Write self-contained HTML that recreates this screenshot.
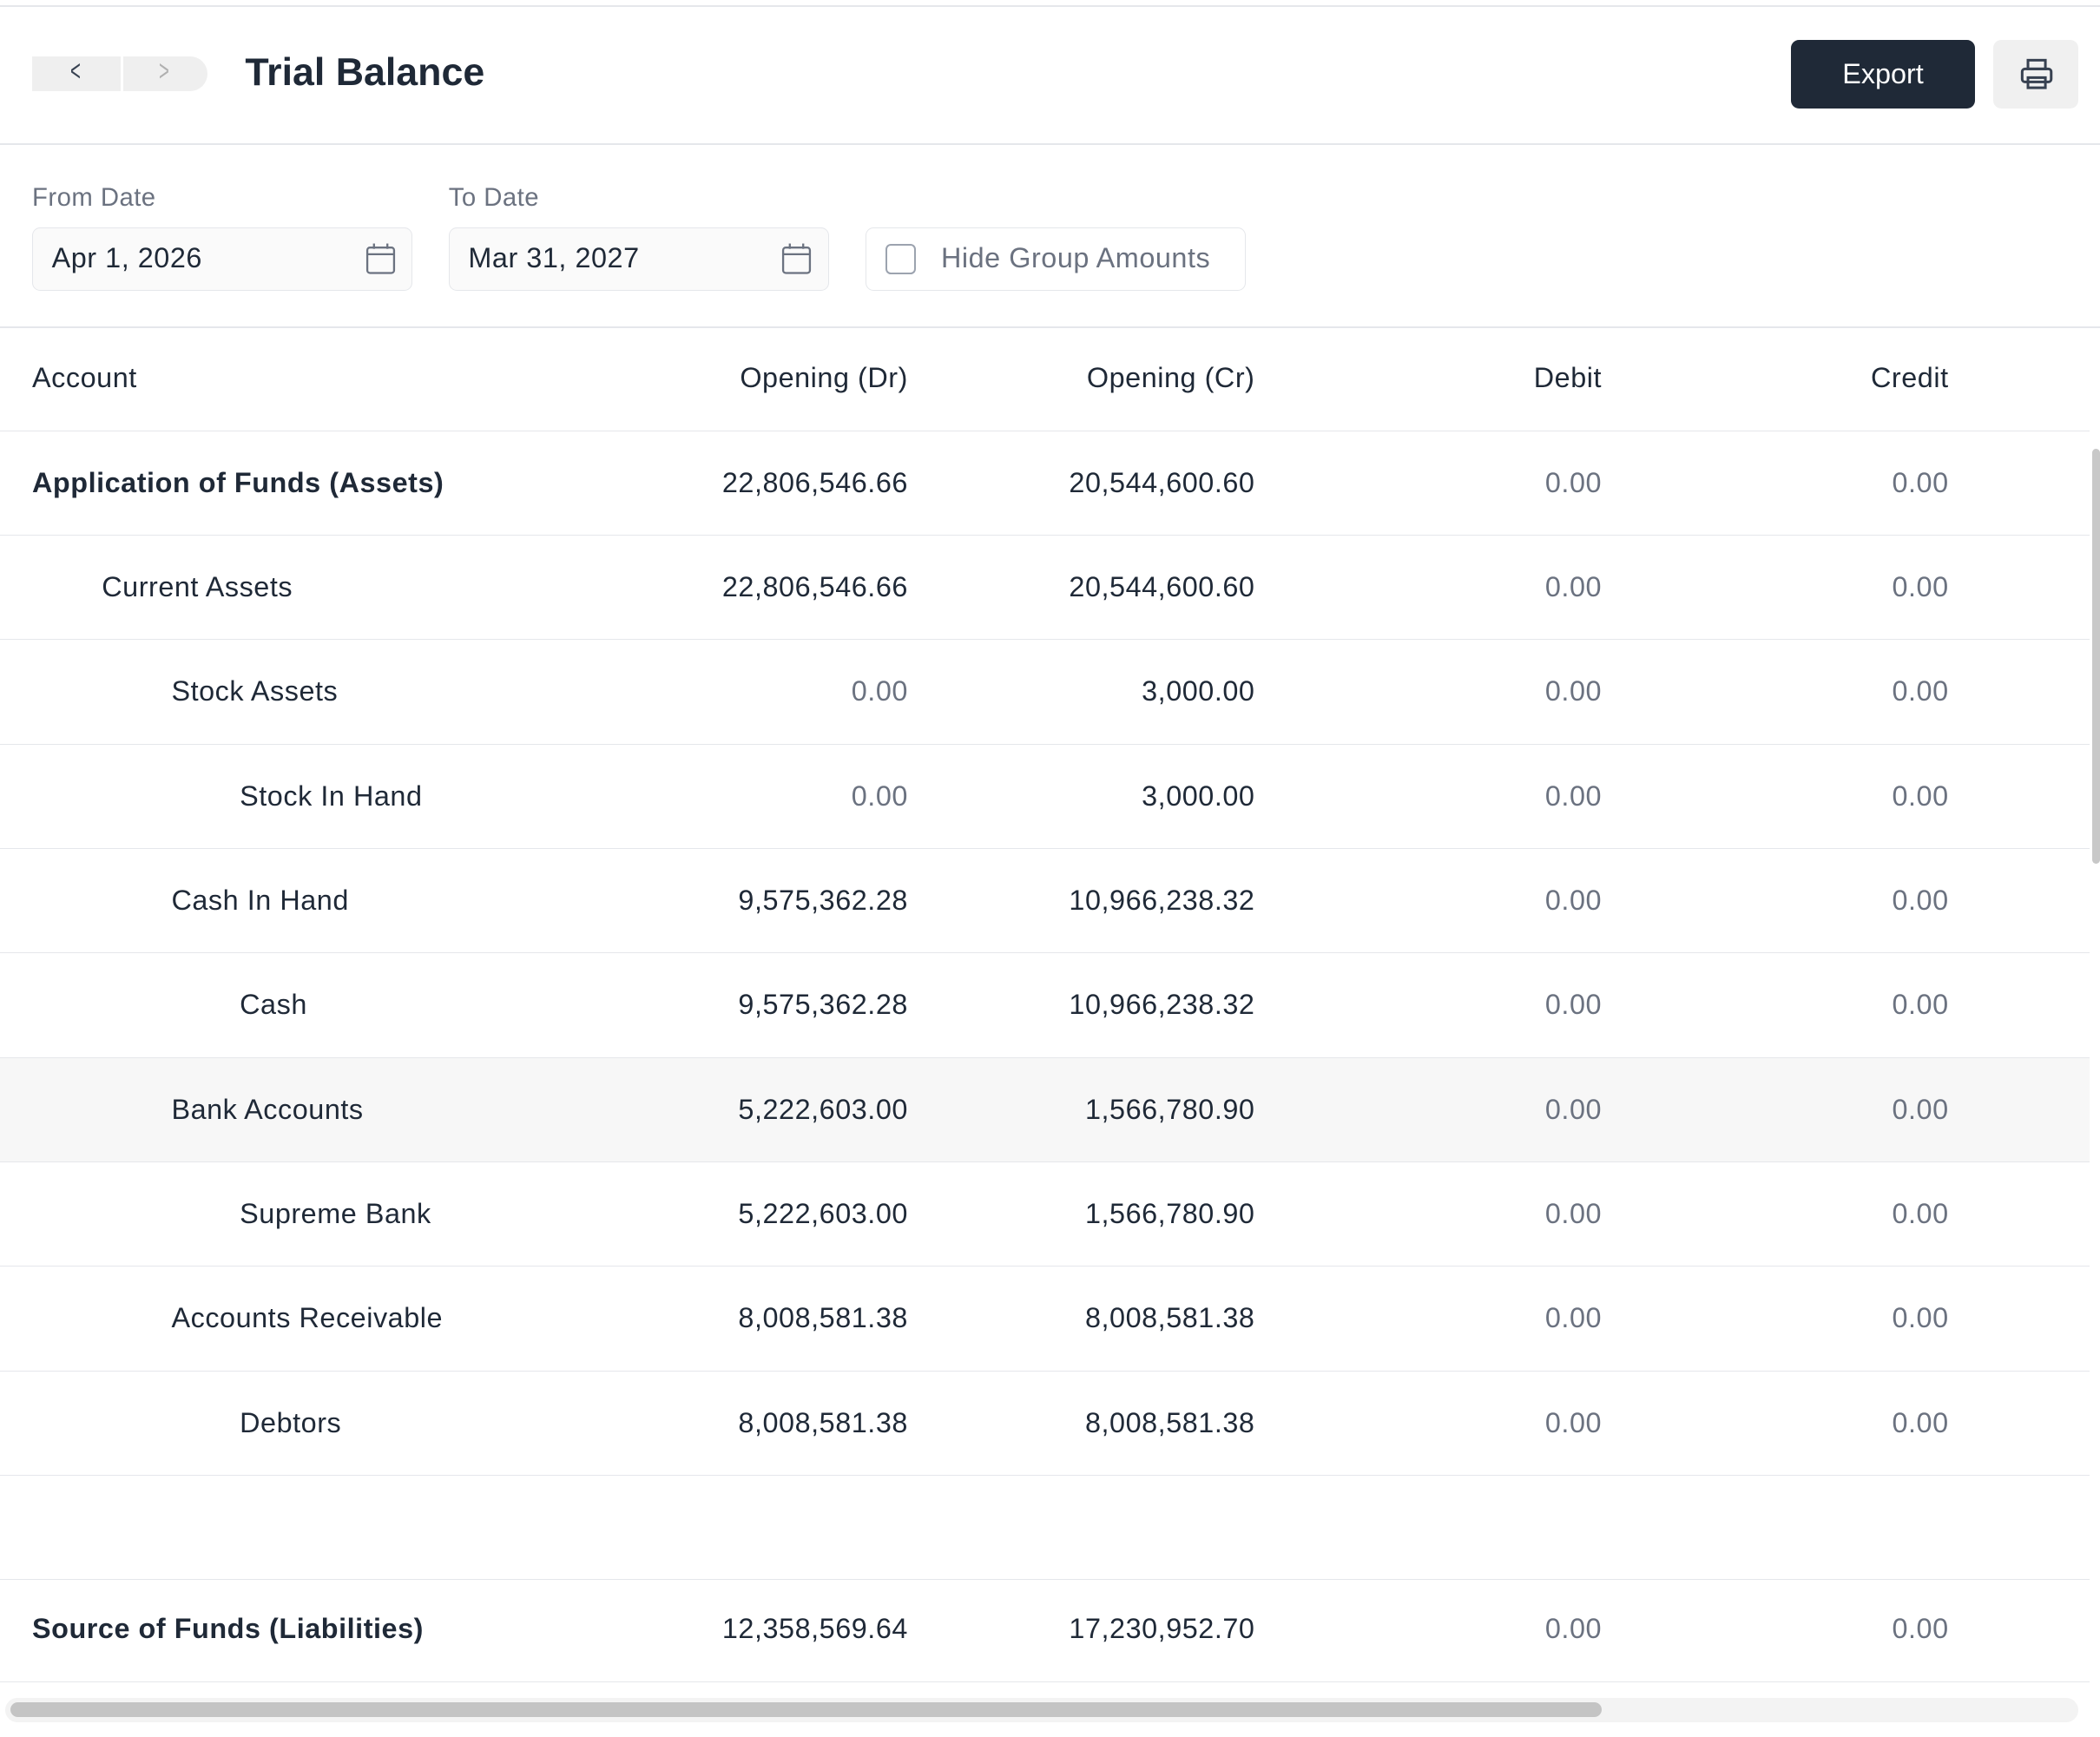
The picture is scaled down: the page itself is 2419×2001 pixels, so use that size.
<!DOCTYPE html>
<html><head><meta charset="utf-8"><style>
html,body{margin:0;padding:0;background:#fff;overflow:hidden;}
#w{zoom:1.5427;width:1568px;height:1297px;position:relative;font-family:"Liberation Sans",sans-serif;color:#1f2937;overflow:hidden;}
.a{position:absolute;}
.line{position:absolute;left:0;width:1568px;height:1px;background:#e5e7eb;}
.row{position:absolute;left:0;width:1560px;height:78px;border-bottom:1px solid #e5e7eb;font-size:21px;box-sizing:border-box;letter-spacing:0.35px;}
.row span{position:absolute;top:0;line-height:77px;}
.n{text-align:right;width:300px;}
.c1{left:378px}.c2{left:637px}.c3{left:896px}.c4{left:1155px}
.z{color:#6b7280}
.inp{position:absolute;top:170px;height:47px;width:284px;background:#fafafa;border:1px solid #e5e7eb;border-radius:6px;box-sizing:border-box;font-size:21px;line-height:45px;padding-left:14px;letter-spacing:0.35px;}
.lbl{position:absolute;top:137px;font-size:19px;color:#6b7280;letter-spacing:0.3px;}
</style></head><body><div id="w">
<div class="line" style="top:4px"></div>
<div class="a" style="left:24px;top:42px;width:131px;height:26px;background:#efefef;border-radius:0 13px 13px 0;"></div>
<div class="a" style="left:90px;top:42px;width:2px;height:26px;background:#fff"></div>
<div class="a" style="left:50px;top:41px;font-size:22px;color:#374151;transform:scaleX(0.6)">&lt;</div>
<div class="a" style="left:116px;top:41px;font-size:22px;color:#b0b0b0;transform:scaleX(0.6)">&gt;</div>
<div class="a" style="left:183px;top:38px;font-size:29px;font-weight:bold;color:#1f2937">Trial Balance</div>
<div class="a" style="left:1337px;top:30px;width:138px;height:51px;background:#1f2937;border-radius:6px;color:#fff;font-size:21px;line-height:51px;text-align:center">Export</div>
<div class="a" style="left:1488px;top:30px;width:64px;height:51px;background:#f0f0f0;border-radius:6px;"></div>
<svg class="a" style="left:1508px;top:43px" width="26" height="26" viewBox="0 0 24 24" fill="none" stroke="#374151" stroke-width="1.8"><rect x="6" y="2" width="12" height="6"/><rect x="2" y="8" width="20" height="9" rx="2"/><rect x="6" y="14" width="12" height="7"/></svg>
<div class="line" style="top:107px"></div>
<div class="lbl" style="left:24px">From Date</div>
<div class="lbl" style="left:335px">To Date</div>
<div class="inp" style="left:24px">Apr 1, 2026</div>
<div class="inp" style="left:335px">Mar 31, 2027</div>
<svg class="a" style="left:272px;top:181px" width="24" height="25" viewBox="0 0 24 25" fill="none" stroke="#6b7280" stroke-width="1.5"><rect x="2" y="4" width="20" height="19" rx="2"/><line x1="2" y1="9" x2="22" y2="9"/><line x1="7" y1="1" x2="7" y2="5"/><line x1="17" y1="1" x2="17" y2="5"/></svg>
<svg class="a" style="left:583px;top:181px" width="24" height="25" viewBox="0 0 24 25" fill="none" stroke="#6b7280" stroke-width="1.5"><rect x="2" y="4" width="20" height="19" rx="2"/><line x1="2" y1="9" x2="22" y2="9"/><line x1="7" y1="1" x2="7" y2="5"/><line x1="17" y1="1" x2="17" y2="5"/></svg>
<div class="inp" style="left:646px;background:#fff;color:#6b7280;padding-left:56px">Hide Group Amounts</div>
<div class="a" style="left:661px;top:182px;width:20px;height:20px;border:1.5px solid #9ca3af;border-radius:4px"></div>
<div class="line" style="top:244px"></div>
<div class="row" style="top:244px"><span style="left:24px">Account</span><span class="n c1">Opening (Dr)</span><span class="n c2">Opening (Cr)</span><span class="n c3">Debit</span><span class="n c4">Credit</span></div>
<div class="row" style="top:322px;font-weight:bold"><span style="left:24px">Application of Funds (Assets)</span><span class="n c1" style="font-weight:normal">22,806,546.66</span><span class="n c2" style="font-weight:normal">20,544,600.60</span><span class="n c3 z" style="font-weight:normal">0.00</span><span class="n c4 z" style="font-weight:normal">0.00</span></div>
<div class="row" style="top:400px"><span style="left:76px">Current Assets</span><span class="n c1">22,806,546.66</span><span class="n c2">20,544,600.60</span><span class="n c3 z">0.00</span><span class="n c4 z">0.00</span></div>
<div class="row" style="top:478px"><span style="left:128px">Stock Assets</span><span class="n c1 z">0.00</span><span class="n c2">3,000.00</span><span class="n c3 z">0.00</span><span class="n c4 z">0.00</span></div>
<div class="row" style="top:556px"><span style="left:179px">Stock In Hand</span><span class="n c1 z">0.00</span><span class="n c2">3,000.00</span><span class="n c3 z">0.00</span><span class="n c4 z">0.00</span></div>
<div class="row" style="top:634px"><span style="left:128px">Cash In Hand</span><span class="n c1">9,575,362.28</span><span class="n c2">10,966,238.32</span><span class="n c3 z">0.00</span><span class="n c4 z">0.00</span></div>
<div class="row" style="top:712px"><span style="left:179px">Cash</span><span class="n c1">9,575,362.28</span><span class="n c2">10,966,238.32</span><span class="n c3 z">0.00</span><span class="n c4 z">0.00</span></div>
<div class="row" style="top:790px;background:#f7f7f7"><span style="left:128px">Bank Accounts</span><span class="n c1">5,222,603.00</span><span class="n c2">1,566,780.90</span><span class="n c3 z">0.00</span><span class="n c4 z">0.00</span></div>
<div class="row" style="top:868px"><span style="left:179px">Supreme Bank</span><span class="n c1">5,222,603.00</span><span class="n c2">1,566,780.90</span><span class="n c3 z">0.00</span><span class="n c4 z">0.00</span></div>
<div class="row" style="top:946px"><span style="left:128px">Accounts Receivable</span><span class="n c1">8,008,581.38</span><span class="n c2">8,008,581.38</span><span class="n c3 z">0.00</span><span class="n c4 z">0.00</span></div>
<div class="row" style="top:1024px"><span style="left:179px">Debtors</span><span class="n c1">8,008,581.38</span><span class="n c2">8,008,581.38</span><span class="n c3 z">0.00</span><span class="n c4 z">0.00</span></div>
<div class="row" style="top:1102px"></div>
<div class="row" style="top:1178px;font-weight:bold"><span style="left:24px">Source of Funds (Liabilities)</span><span class="n c1" style="font-weight:normal">12,358,569.64</span><span class="n c2" style="font-weight:normal">17,230,952.70</span><span class="n c3 z" style="font-weight:normal">0.00</span><span class="n c4 z" style="font-weight:normal">0.00</span></div>
<div class="a" style="left:1562px;top:335px;width:6px;height:310px;background:#c8c8c8;border-radius:3px"></div>
<div class="a" style="left:4px;top:1268px;width:1548px;height:18px;background:#f3f3f3;border-radius:9px"></div>
<div class="a" style="left:8px;top:1271px;width:1188px;height:11px;background:#c4c4c4;border-radius:6px"></div>
</div></body></html>
